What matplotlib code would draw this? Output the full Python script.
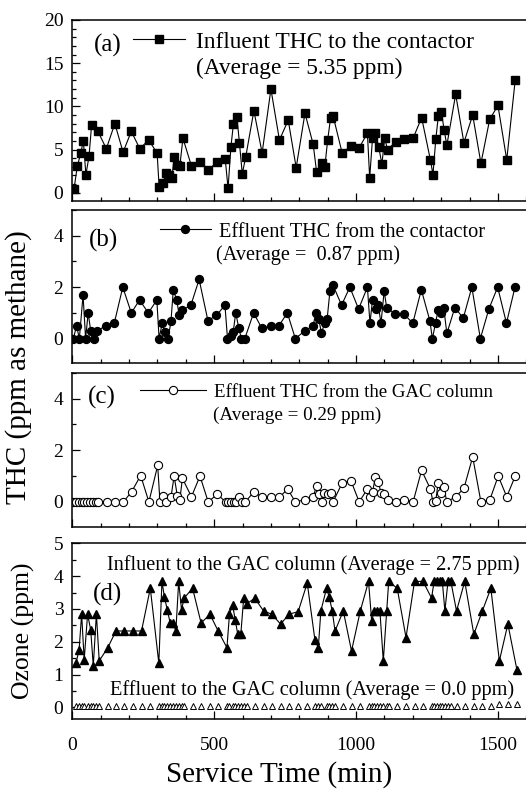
import matplotlib
matplotlib.use("Agg")
import matplotlib.pyplot as plt
from matplotlib.ticker import MultipleLocator

plt.rcParams['font.family'] = ['Liberation Serif', 'DejaVu Serif']

# ---------------- data ----------------
# (a) influent THC to the contactor
ta = [6, 18, 30, 39, 48, 59, 68, 89, 120, 150, 179, 208, 238, 269, 299, 306, 320, 330, 342, 351,
      359, 368, 379, 390, 420, 450, 480, 510, 539, 549, 559, 568, 580, 589, 599, 611, 640, 669, 700, 730,
      761, 789, 820, 849, 861, 879, 890, 900, 910, 919, 951, 982, 1011, 1040, 1048, 1058, 1068, 1080, 1091, 1101,
      1111, 1140, 1170, 1201, 1231, 1262, 1271, 1281, 1290, 1301, 1310, 1320, 1351, 1380, 1411, 1440, 1471, 1500, 1531, 1561]
va = [0.4, 3.1, 4.6, 6.0, 2.1, 4.2, 7.8, 7.2, 5.1, 8.0, 4.7, 7.1, 5.1, 6.1, 4.6, 0.7, 1.1, 2.3, 2.1, 1.7,
      4.1, 3.2, 3.1, 6.3, 3.1, 3.5, 2.6, 3.6, 3.9, 0.5, 5.3, 8.0, 8.8, 5.8, 2.2, 4.1, 9.5, 4.6, 12.0, 6.1,
      8.4, 2.9, 9.2, 5.6, 2.4, 3.4, 3.0, 6.1, 8.6, 8.9, 4.6, 5.4, 5.2, 6.9, 1.7, 6.3, 6.9, 5.3, 3.3, 6.3,
      5.0, 5.9, 6.2, 6.3, 8.7, 3.8, 2.1, 6.2, 8.9, 9.4, 7.3, 5.5, 11.4, 5.8, 9.0, 3.4, 8.5, 10.1, 3.8, 13.1]

# (b) effluent THC from the contactor
tb = [4, 15, 25, 38, 47, 56, 65, 78, 88, 118, 148, 178, 208, 237, 268, 298, 306, 317, 326, 338,
      348, 356, 368, 377, 387, 418, 447, 478, 508, 538, 547, 558, 567, 576, 587, 596, 608, 639, 668, 699,
      728, 758, 786, 819, 849, 858, 869, 878, 889, 898, 908, 918, 949, 978, 1009, 1040, 1049, 1058, 1069, 1078,
      1088, 1099, 1108, 1139, 1169, 1200, 1230, 1260, 1269, 1280, 1289, 1300, 1309, 1320, 1348, 1378, 1408, 1438, 1468, 1499,
      1530, 1560]
vb = [0, 0.5, 0, 1.7, 0, 1.0, 0.3, 0, 0.3, 0.5, 0.6, 2.0, 1.0, 1.5, 1.0, 1.5, 0, 0.6, 0.25, 0,
      0.7, 1.9, 1.5, 0.9, 1.1, 1.3, 2.3, 0.7, 0.9, 1.3, 0, 0.1, 0.25, 1.0, 0.4, 0, 0, 1.0, 0.4, 0.5,
      0.5, 1.0, 0, 0.3, 0.5, 1.0, 0.75, 0.2, 0.6, 0.75, 1.85, 2.1, 1.3, 2.0, 1.15, 2.0, 0.6, 1.5, 1.15, 1.3,
      0.6, 1.85, 1.2, 0.95, 0.95, 0.6, 1.9, 0.7, 0, 0.6, 1.1, 1.0, 1.2, 0.2, 1.2, 0.8, 2.0, 0, 1.15, 2.0,
      0.6, 2.0]

# (c) effluent THC from the GAC column
tc = [4, 13, 24, 33, 42, 53, 62, 72, 82, 92, 121, 150, 180, 209, 241, 270, 301, 309, 320, 332,
      348, 359, 370, 379, 388, 420, 450, 479, 511, 540, 549, 559, 569, 578, 588, 599, 610, 640, 669, 700,
      730, 759, 786, 820, 849, 861, 871, 879, 888, 900, 910, 919, 951, 982, 1011, 1040, 1048, 1058, 1068, 1078,
      1088, 1099, 1111, 1140, 1170, 1201, 1231, 1262, 1271, 1281, 1289, 1299, 1309, 1320, 1351, 1380, 1411, 1440, 1471, 1501,
      1531, 1561]
vc = [0, 0, 0, 0, 0, 0, 0, 0, 0, 0, 0, 0, 0, 0.39, 1.02, 0, 1.41, 0, 0.24, 0,
      0.2, 1.0, 0.24, 0.07, 0.91, 0.2, 1.0, 0, 0.3, 0, 0, 0, 0, 0, 0.2, 0, 0, 0.39, 0.18, 0.18,
      0.18, 0.5, 0, 0.08, 0.2, 0.63, 0.3, 0, 0.33, 0.3, 0.33, 0, 0.73, 0.82, 0, 0.5, 0.2, 0.39, 0.95, 0.78,
      0.35, 0.3, 0.08, 0, 0.08, 0, 1.22, 0.5, 0, 0.04, 0.73, 0.35, 0.58, 0, 0.2, 0.52, 1.74, 0, 0.07, 1.0,
      0.2, 1.0]

# (d) ozone: influent / effluent of the GAC column
td = [13, 24, 33, 42, 54, 65, 74, 85, 95, 125, 154, 183, 214, 244, 275, 305, 316, 325, 335, 345,
      355, 365, 375, 385, 394, 424, 454, 485, 514, 545, 554, 565, 574, 583, 594, 604, 614, 643, 674, 703,
      734, 764, 796, 828, 855, 867, 876, 896, 906, 916, 926, 955, 984, 1015, 1044, 1055, 1064, 1075, 1084, 1096,
      1108, 1115, 1145, 1176, 1206, 1236, 1266, 1275, 1284, 1295, 1304, 1313, 1324, 1334, 1354, 1383, 1415, 1445, 1475, 1505,
      1535, 1567]
vd_in = [1.35, 1.75, 2.84, 1.45, 2.84, 2.36, 1.27, 2.84, 1.42, 1.82, 2.33, 2.33, 2.33, 2.33, 3.63, 1.35, 3.84, 3.35, 2.97, 2.57,
         2.57, 2.33, 3.84, 2.97, 3.33, 3.63, 2.57, 2.84, 2.33, 1.82, 2.84, 3.13, 2.67, 2.24, 2.24, 3.33, 3.15, 3.33, 2.94, 2.84,
         2.54, 2.84, 2.92, 3.79, 2.06, 1.82, 2.94, 3.63, 3.35, 2.94, 2.33, 2.94, 1.72, 2.94, 3.84, 2.64, 2.94, 2.94, 2.94, 1.42,
         2.94, 3.84, 3.63, 2.13, 3.84, 3.84, 3.33, 3.84, 3.84, 3.84, 3.84, 2.94, 3.84, 3.84, 2.94, 3.84, 2.23, 2.94, 3.63, 1.42,
         2.54, 1.14]
vd_out = [0.05] * 79 + [0.12, 0.12, 0.12]

xticks = [0, 500, 1000, 1500]

# ---------------- layout ----------------
W, H = 526, 789
fig = plt.figure(figsize=(W / 100, H / 100), dpi=100)

X0, X1 = 71.7, 532.0


def make_ax(top, bottom):
    return fig.add_axes([X0 / W, 1 - bottom / H, (X1 - X0) / W, (bottom - top) / H])


def fx(px):
    return px / W


def fy(py):
    return 1 - py / H


axa = make_ax(20, 201)
axb = make_ax(210, 363.3)
axc = make_ax(372.7, 526.7)
axd = make_ax(543.3, 719.3)

lw = 0.8
la, = axa.plot(ta, va, '-', color='black', lw=lw, marker='s', ms=5.3, mfc='black', mec='black')
lb, = axb.plot(tb, vb, '-', color='black', lw=lw, marker='o', ms=5.7, mfc='black', mec='black')
lc, = axc.plot(tc, vc, '-', color='black', lw=lw, marker='o', ms=5.9, mfc='white', mec='black', mew=0.8)
axd.plot(td, vd_in, '-', color='black', lw=lw, marker='^', ms=5.3, mfc='black', mec='black')
axd.plot(td, vd_out, marker='^', ms=4.6, mfc='white', mec='black', mew=0.7, linestyle='None')

axa.set_ylim(-0.96, 20)
axb.set_ylim(-0.96, 5)
axc.set_ylim(-0.96, 5)
axd.set_ylim(-0.36, 5)

axa.yaxis.set_major_locator(MultipleLocator(5))
axa.yaxis.set_minor_locator(MultipleLocator(1))
for ax in (axb, axc):
    ax.set_yticks([0, 2, 4])
    ax.yaxis.set_minor_locator(MultipleLocator(1))
axd.set_yticks([0, 1, 2, 3, 4, 5])
axd.yaxis.set_minor_locator(MultipleLocator(0.5))

tick_fs = 14
for ax in (axa, axb, axc, axd):
    ax.set_xlim(-2, 1620)
    ax.set_xticks(xticks)
    ax.xaxis.set_minor_locator(MultipleLocator(100))
    ax.tick_params(which='both', direction='in', top=False, right=False)
    ax.tick_params(which='major', length=6, width=0.9, labelsize=tick_fs)
    ax.tick_params(which='minor', length=3.2, width=0.9)
    ax.tick_params(axis='y', pad=6)
    ax.tick_params(axis='x', pad=13)
    for s in ax.spines.values():
        s.set_linewidth(1.1)
    if ax is not axd:
        ax.tick_params(axis='x', labelbottom=False)


# ---------------- legends / annotations ----------------
def legend_at(ax, handle, label, x_px, y_px, hl, tp, fs):
    ax.legend([handle], [label], loc='center left', bbox_to_anchor=(fx(x_px), fy(y_px)),
              bbox_transform=fig.transFigure, frameon=False, borderpad=0, borderaxespad=0,
              handlelength=hl, handletextpad=tp, fontsize=fs, numpoints=1)


legend_at(axa, la, 'Influent THC to the contactor', 132.7, 42, 2.25, 0.46, 16.8)
fig.text(fx(196), fy(68), '(Average = 5.35 ppm)', fontsize=16.8, ha='left', va='center')
fig.text(fx(107.5), fy(45.5), '(a)', fontsize=18, ha='center', va='center')

legend_at(axb, lb, 'Effluent THC from the contactor', 160, 232, 2.5, 0.42, 14.6)
fig.text(fx(216), fy(255), '(Average =  0.87 ppm)', fontsize=14.6, ha='left', va='center')
fig.text(fx(103), fy(240), '(b)', fontsize=18, ha='center', va='center')

legend_at(axc, lc, 'Effluent THC from the GAC column', 140, 392, 3.5, 0.4, 13.6)
fig.text(fx(213), fy(415), '(Average = 0.29 ppm)', fontsize=13.8, ha='left', va='center')
fig.text(fx(102), fy(397), '(c)', fontsize=18, ha='center', va='center')

fig.text(fx(107), fy(565), 'Influent to the GAC column (Average = 2.75 ppm)', fontsize=14.6,
         ha='left', va='center')
fig.text(fx(110), fy(690), 'Effluent to the GAC column (Average = 0.0 ppm)', fontsize=14.6,
         ha='left', va='center')
fig.text(fx(108), fy(594), '(d)', fontsize=18, ha='center', va='center')

# axis labels
fig.text(fx(19), fy(367), 'THC (ppm as methane)', fontsize=21, rotation=90, ha='center', va='center')
fig.text(fx(23), fy(631), 'Ozone (ppm)', fontsize=18.5, rotation=90, ha='center', va='center')
fig.text(fx(279), fy(775), 'Service Time (min)', fontsize=21, ha='center', va='center')

fig.savefig('out.png', dpi=100)
